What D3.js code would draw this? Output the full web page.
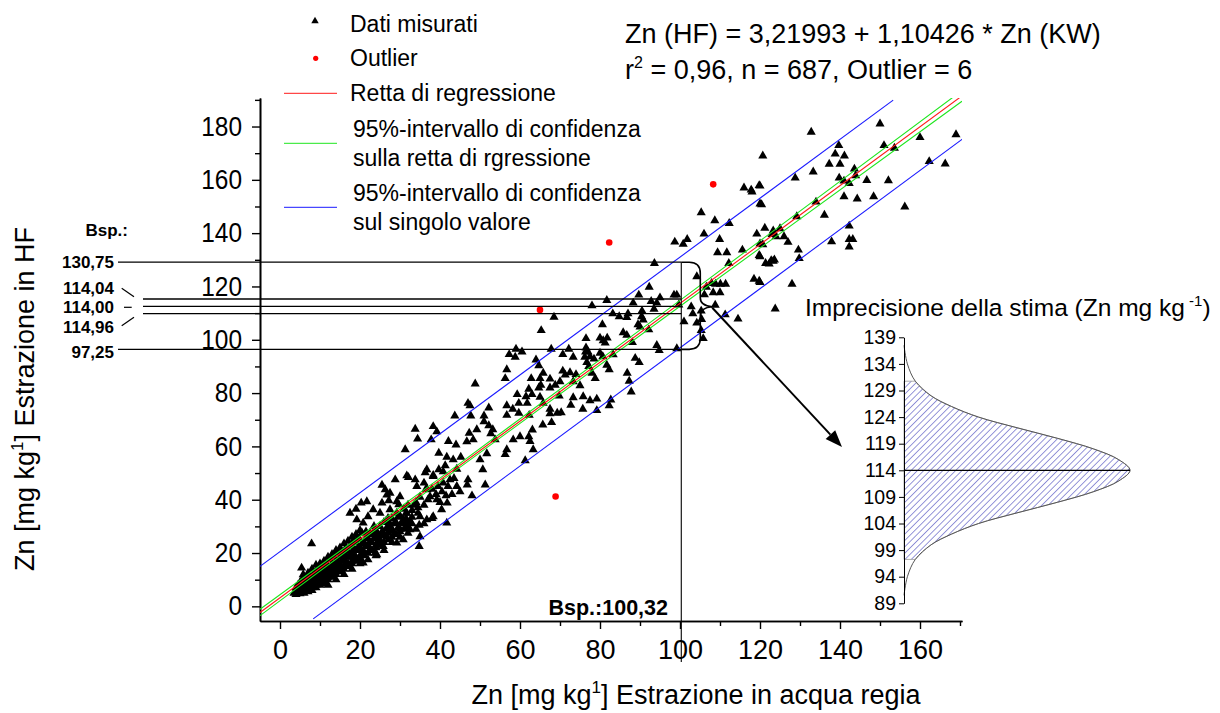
<!DOCTYPE html>
<html>
<head>
<meta charset="utf-8">
<script src="https://cdn.jsdelivr.net/npm/d3@7"></script>
<style>
  body { margin: 0; background: #fff; }
  text { font-family: Arial, "Liberation Sans", sans-serif; fill: #000; }
</style>
</head>
<body>
<div class="chart"></div>
<script>
// valori: [Zn KW, Zn HF]
const measured = [
  // parte alta (x > 115)
  [132.8,177.9],[150,181],[120.7,169],[139.7,172.9],[138.8,169.7],[141.1,169],[137.3,165.9],[140,165.9],
  [151,172.9],[153.6,171.9],[160,175.9],[169,177],[162.3,166.9],[166.3,166],[133.3,163],[128.8,160.7],
  [143.6,164.1],[143.9,161.6],[139.8,160.7],[141,159.6],[142.3,158.7],[146.7,159.8],[152.1,159.7],[141,153.7],
  [144.3,152.9],[148.4,153.7],[156.2,149.9],[134,151.7],[136.1,146.8],[129.2,146.2],[120,151],[120,157.7],
  [142.3,142.7],[137.9,136.8],[142.3,137.7],[143.2,137.7],[142.3,134.9],[121.2,141.9],[125,141.7],[123,139.5],
  [126,138.7],[127,136.6],[124,138.7],[120,136],[129.6,133.7],[129.8,130.5],[123.3,129.5],[122.3,128.5],
  [120,131.2],[128,120.9],[120,121.5],[123.8,111.6],
  // zona 80-120
  [116,157],[117.8,156.2],[119.8,157.9],[118,155.5],[120.4,150.7],[105.3,147.7],[108.7,144.7],[112.3,143.7],
  [106,139.7],[98.7,136.7],[101.8,137.7],[100.8,135.9],[109.9,137.7],[119.2,139.7],[123.3,140.9],[120.7,135.7],
  [115.6,133.7],[109.4,132.7],[111.7,132.7],[119.8,131.7],[122.8,129.7],[123.6,130],[121.4,128.7],[93.6,128.7],
  [104.2,123.7],[118.5,122.8],[119.8,122],[92.3,119.8],[108.9,120.9],[110.1,120.9],[111.4,120.9],[106.6,119.8],
  [106.1,116.9],[89.7,116.8],[95,115.8],[98.5,116.8],[99.2,116.8],[92.8,114.4],[94.2,113.8],[88.3,113.8],
  [81.7,114.8],[78,112.8],[99.7,113.1],[102.8,112.4],[108.8,113],[83.2,109.8],[84.8,108.7],[87,109.8],
  [86.7,108.4],[90.4,108.7],[90.8,107.5],[103.2,109.8],[105.3,110.8],[111.3,109.4],[114.5,107.8],[101,106.8],
  [104.2,106.3],[80.6,105.7],[89.5,105.7],[90,104.8],[92.2,103.8],[85.8,102.7],[86.7,101.7],[105.3,103.5],
  [80,100.7],[80.8,99.7],[81.8,100.7],[81.3,98.8],[76.5,97],[77,95.5],[94.2,97.9],[94.8,96],
  [99.2,96.7],[105.8,100.5],[83.3,94.4],[88.8,93.1],[77.5,93.7],[80,95],[112.2,128.7],[107.9,121.2],
  [108.3,117.7],[110,117.7],[105.4,107.7],[93.5,111.5],[90.5,110.8],
  // zona 45-90
  [68.5,108.5],[65.3,103.5],[76.5,100.5],[88.1,99],[59,96.5],[60.5,95.5],[57.3,94.5],[58.8,93.5],
  [67.8,96.5],[72.2,96.5],[70.7,94.5],[73.3,93.5],[76.4,95.5],[76.2,93.5],[78.5,92.8],[80.7,93.7],
  [81.7,90.5],[82.3,88.8],[64,92.5],[64.7,90.3],[65.8,87.5],[76.7,91.5],[77.2,90],[89.8,91.5],
  [56.7,88.8],[56.3,85.5],[70.7,88.3],[71.3,86.8],[72.5,87.7],[74,87],[78,87.5],[78.8,85.5],
  [62.8,85.5],[65.2,83],[65,85.5],[86.8,87.5],[87.3,84.5],[87.8,80.5],[48.8,83.5],[67.5,85.3],
  [68.8,83],[70,84.3],[73.3,84.3],[75,82.8],[62.2,81.5],[64.7,82],[67.5,82],[59.3,79.5],
  [61.5,78.7],[63,79.5],[65,78.5],[69.8,79],[73.3,78.3],[75.8,78.7],[79.2,77.8],[82.7,77.5],
  [82.3,75.3],[47,76.2],[47.5,75.3],[52.2,74.5],[56.7,75.3],[58.2,74],[59.7,76.2],[61.8,76.2],
  [65.8,76.2],[67.5,74],[69.3,72.5],[72.7,75.5],[75.7,74],[43.7,71.5],[47.7,71.5],[51,71.5],
  [56.7,71.7],[59.7,72.5],[62.3,71.7],[67.5,72.3],[70.3,72.7],[79.2,73.5],[77.5,77.2],[65.7,68.1],
  [67.9,69],[62.5,61.9],[51,69.3],
  // zona 20-65
  [33.8,66.5],[38.3,67.5],[39.2,65.5],[34.4,62.8],[37.8,62.5],[31.3,58.8],[42.1,61.9],[44,60.6],
  [47.3,65],[49.2,66.3],[46.7,61.8],[48.3,62.5],[52.2,67.8],[53.2,66.3],[52.7,64.8],[53.8,62.5],
  [39.7,57.5],[41.7,56],[43.3,55],[45.2,56],[41.3,52.8],[39.7,51.3],[44.2,51.5],[50,55],
  [50.7,51.3],[51.7,57.3],[36.7,51.3],[38.3,48.8],[36,46.3],[34.2,45],[36.8,43.8],[32.1,48.4],
  [28.8,47.5],[25.5,45.5],[40.8,46.3],[42.5,47.5],[44.2,45],[47,47.5],[46.8,45.6],[51.3,45.6],
  [48,41.5],[41.8,38.8],[39.2,40],[37.5,41.2],[27.5,42.5],[30,41.2],[27.2,39.7],[29.7,38.2],
  [25.5,38.8],[23.3,36.3],[25,35],[27.5,36.3],[22,33.7],[20.8,31.3],[20.3,38.8],[17.5,35],
  [31.7,35],[35,33.7],[36.7,32.5],[31.7,31.3],[34.8,30.5],[61.3,54.7],[63.3,58.8],[63.1,66.2],
  [62.2,63.7],[56.7,58.8],[56.3,57],[58.3,62.5],[60,63.7],[7.9,23.5],[19.2,32.5],[34.8,22.5],
  [35,26.2],[32.5,28.8],[20.8,20],[23.8,20],[25.8,22.5],[29.2,23.8],[30.8,25],[31.7,49],
  [33.8,47.5],[36.3,50.2],[38.3,49.2],[40.8,50.5],[5.4,14.4],[5.8,11.9],[19,36.5],[21.7,39.3],
  [26.7,41.8],[29.2,39.3],[26.3,43.8],[38.3,33.7],[40.4,36.3],[41.7,31.3],[30.8,32.5],[29.2,35],
  [27.5,30],[20.8,16.3],[18.8,17.5],[24.2,19.4],[26.7,26.2],[22.5,27.5],
  [38,44],[39.5,45],[40.5,43],[41.5,41.5],[39,42],[42,45],[43,42],[37,40],[40,39],[43.5,48],[45,43],
  // nuvola densa (x < 37)
  [3.5,5],[4,4.5],[4,6],[4.5,5.5],[5,4.8],[5,6.5],[5.5,5.5],[5.5,8],[6,6],[6,7.5],[6.5,6.5],[6.5,9],
  [4.5,8],[5.5,10],[7,6.5],[7,8],[7,10],[7.5,7.5],[7.5,9.5],[8,7],[8,8.5],[8,11],[8.5,9],[8.5,12.5],
  [9,8],[9,10],[9,13],[9.5,9],[9.5,11.5],[10,10],[10,12.5],[10,15],[10.5,11],[10.5,8.5],
  [11,10],[11,12],[11,14.5],[11.5,11],[11.5,16],[12,11],[12,13],[12,15],[12.5,12],[12.5,17.5],
  [13,12],[13,14],[13,16],[13.5,13],[13.5,18.5],[14,13],[14,15],[14,17],[14,20],[14.5,14],
  [15,14],[15,16],[15,18.5],[15,21],[15.5,17],[16,15],[16,17.5],[16,20],[16.5,16],[16.5,22],
  [17,16],[17,18.5],[17,21],[17.5,19.5],[18,17],[18,20],[18,23],[18.5,19],[18.5,25],[19,18.5],
  [19,21],[19,24],[19.5,22],[20,19],[20,22],[20,25],[20.5,23.5],[20.5,27.5],[21,20.5],[21,24],
  [21.5,22.5],[21.5,28],[22,23],[22,25.5],[22.5,21.5],[23,24],[23,27],[23.5,25.5],[23.5,30],
  [24,23],[24,26],[24,28.5],[24.5,27],[25,25],[25,30],[25.5,28],[26,27],[26,31.5],[26.5,29],
  [27,27.5],[27,33],[27.5,31],[28,29],[28,33],[28.5,27],[29,31.5],[29.5,33.5],[30,29],[30,34],
  [31,31],[31,36.5],[31.5,33],[32,38],[33,33.5],[33,36],[34,39],[34.5,35],[35,41],[36,38],[36.5,44],
  [6,11],[7,12.5],[8,14],[9,15.5],[10,16],[11,17],[12,18.5],[13,19.5],[14,21],[15,22],[16,23.5],
  [17,24.5],[18,26],[19,27],[20,28.5],[12,8],[14,10],[16,12],[18,14],[20,16],[22,17.5],[24,19],
  [26,21],[28,24],[30,26],[32,27.5],[34,29],[36,31],[38,33],
  [4,7],[5,9],[6,5],[7,5.5],[8,6],[9,7],[10,8],[11,9],[12,10],[13,11],[14,12],[15,13],[16,14],
  [17,15],[18,16],[19,17],[20,18],[21,19],[22,20],[23,21],[24,22],[25,23],[26,24],[27,25],[28,26],
  [29,27],[30,28],[31,29],[32,30],[33,31],[6.5,10.5],[7.5,11.5],[8.5,10.5],[9.5,13.5],[10.5,13.5],
  [11.5,13.5],[12.5,14.5],[13.5,15.5],[14.5,16.5],[15.5,19.5],[16.5,18.5],[17.5,22.5],[18.5,21.5],
  [19.5,25.5],[20.5,21],[21.5,25.5],[22.5,24],[23.5,28],[24.5,24.5],[25.5,26.5],[26.5,32],[27.5,28.5],
  [28.5,31],[29.5,29.5],[30.5,31.5],[31.5,35],[32.5,32],[33.5,38],[34.5,37]
]

const outliers = [[65.0,111.2],[82.3,136.5],[108.3,158.3],[68.9,41.2]]

// linee (estremi)
const regressionLine = [[-5,-2.3],[170.5,191.5]]
const confUpper = [[-5,-1.1],[40,48.1],[100,114.8],[170.5,193.5]]
const confLower = [[-5,-3.5],[40,46.7],[100,112.6],[170.5,189.5]]
const predUpper = [[-5,15.0],[153.3,189.9]]
const predLower = [[8.3,-4.7],[170.8,175.5]]

// tacche
const xMajor = [0,20,40,60,80,100,120,140,160]
const xMinor = [10,30,50,70,90,110,130,150,170]
const yMajor = [0,20,40,60,80,100,120,140,160,180]
const yMinor = [10,30,50,70,90,110,130,150,170,190]
const insetTicks = [89,94,99,104,109,114,119,124,129,134,139]

// esempio (Bsp.)
const exampleKW = 100.32
const bspLines = [129.1,115.3,112.5,109.8,96.4]
const bspLabels = ['130,75','114,04','114,00','114,96','97,25']

// curva di imprecisione: [Zn, densita relativa]
const insetCurve = [[137.5,0],[134,0.015],[130.75,0.05],[128,0.12],[126,0.21],[124,0.33],[122,0.5],
  [120,0.68],[118,0.84],[116,0.95],[114,1],[112,0.95],[110,0.84],[108,0.68],[106,0.5],[104,0.33],
  [102,0.21],[100,0.12],[97.25,0.05],[94,0.015],[90.5,0]]
const insetMean = 114
const insetBand = [97.25,130.75]

function drawChart() {
  const svgWidth = 1220
  const svgHeight = 713
  const svg = d3.select('.chart')
    .append('svg')
    .attr('width', svgWidth)
    .attr('height', svgHeight)

  const defs = svg.append('defs')
  defs.append('clipPath').attr('id', 'plotClip')
    .append('rect').attr('x', 260).attr('y', 98).attr('width', 702).attr('height', 523)
  const hatch = defs.append('pattern')
    .attr('id', 'hatch')
    .attr('patternUnits', 'userSpaceOnUse')
    .attr('width', 4.5).attr('height', 4.5)
    .attr('patternTransform', 'rotate(45)')
  hatch.append('rect').attr('width', 4.5).attr('height', 4.5).attr('fill', '#fff')
  hatch.append('line').attr('x1', 0).attr('y1', 0).attr('x2', 0).attr('y2', 4.5)
    .attr('stroke', '#5050c0').attr('stroke-width', 1.2)

  // scale
  const x = d3.scaleLinear().domain([-5, 170.5]).range([260, 962])
  const y = d3.scaleLinear().domain([-5.5, 190.7]).range([621, 98])

  // assi
  const xAxis = svg.append('g').attr('transform', 'translate(0,621)')
    .call(d3.axisBottom(x).tickValues(xMajor).tickSize(8).tickSizeOuter(0).tickPadding(11))
  xAxis.append('g').call(d3.axisBottom(x).tickValues(xMinor).tickSize(5).tickSizeOuter(0).tickFormat(''))
  const yAxis = svg.append('g').attr('transform', 'translate(260,0)')
    .call(d3.axisLeft(y).tickValues(yMajor).tickSize(8).tickSizeOuter(0).tickPadding(10))
  yAxis.append('g').call(d3.axisLeft(y).tickValues(yMinor).tickSize(5).tickSizeOuter(0).tickFormat(''))
  svg.selectAll('.domain').attr('stroke', '#000').attr('stroke-width', 1.6)
  svg.selectAll('.tick line').attr('stroke', '#000').attr('stroke-width', 1.4)
  xAxis.selectAll('text').style('font-size', '27px').style('font-family', 'Arial')
  yAxis.selectAll('text').style('font-size', '27px').style('font-family', 'Arial')
    .attr('textLength', d => String(d).length * 13.6).attr('lengthAdjust', 'spacingAndGlyphs')

  // titoli assi
  const yTitle = svg.append('text')
    .attr('transform', 'translate(34,399) rotate(-90)')
    .attr('text-anchor', 'middle')
    .style('font-size', '27px')
  yTitle.append('tspan').text('Zn [mg kg')
  yTitle.append('tspan').attr('dy', -11).style('font-size', '17px').text('1')
  yTitle.append('tspan').attr('dy', 11).text('] Estrazione in HF')

  const xTitle = svg.append('text')
    .attr('x', 696).attr('y', 704)
    .attr('text-anchor', 'middle')
    .style('font-size', '27px')
  xTitle.append('tspan').text('Zn [mg kg')
  xTitle.append('tspan').attr('dy', -11).style('font-size', '17px').text('1')
  xTitle.append('tspan').attr('dy', 11).text('] Estrazione in acqua regia')

  // punti misurati
  svg.append('g')
    .selectAll('path')
    .data(measured)
    .enter()
    .append('path')
    .attr('d', d3.symbol(d3.symbolTriangle, 36))
    .attr('transform', d => `translate(${x(d[0])},${y(d[1])})`)
    .attr('fill', '#000')

  // outlier
  svg.append('g')
    .selectAll('circle')
    .data(outliers)
    .enter()
    .append('circle')
    .attr('cx', d => x(d[0]))
    .attr('cy', d => y(d[1]))
    .attr('r', 3.3)
    .attr('fill', '#ff0000')

  // rette
  const line = d3.line().x(d => x(d[0])).y(d => y(d[1]))
  const lines = svg.append('g').attr('clip-path', 'url(#plotClip)')
  const series = [
    [predUpper, '#1a1aff'], [predLower, '#1a1aff'],
    [confUpper, '#1ee61e'], [confLower, '#1ee61e'],
    [regressionLine, '#ff1a1a']
  ]
  series.forEach(s => {
    lines.append('path').attr('d', line(s[0]))
      .attr('fill', 'none').attr('stroke', s[1]).attr('stroke-width', 1.1)
  })

  // esempio: linee orizzontali e verticale
  const ann = svg.append('g').attr('stroke', '#000').attr('fill', 'none')
  bspLines.forEach((v, i) => {
    const x0 = (i === 0 || i === 4) ? 118 : 143
    ann.append('line').attr('x1', x0).attr('x2', x(exampleKW))
      .attr('y1', y(v)).attr('y2', y(v)).attr('stroke-width', 1.3)
  })
  ann.append('line').attr('x1', x(exampleKW)).attr('x2', x(exampleKW))
    .attr('y1', y(bspLines[0])).attr('y2', 662).attr('stroke-width', 1.1)
  // trattini verso le etichette centrali
  ann.append('line').attr('x1', 121.7).attr('y1', 288.3).attr('x2', 134).attr('y2', 296.7).attr('stroke-width', 1.2)
  ann.append('line').attr('x1', 124).attr('y1', 307.3).attr('x2', 131.7).attr('y2', 307.3).attr('stroke-width', 1.2)
  ann.append('line').attr('x1', 121.7).attr('y1', 325.7).attr('x2', 134).attr('y2', 317.3).attr('stroke-width', 1.2)

  // parentesi graffa
  const bx = x(exampleKW), top = y(bspLines[0]), bot = y(bspLines[4])
  const mid = (top + bot) / 2 + 1
  ann.append('path')
    .attr('d', `M${bx},${top} H${bx + 8} Q${bx + 19},${top} ${bx + 19},${top + 11} V${mid - 9}
      Q${bx + 19},${mid - 1} ${bx + 31},${mid} Q${bx + 19},${mid + 1} ${bx + 19},${mid + 9}
      V${bot - 11} Q${bx + 19},${bot} ${bx + 8},${bot} H${bx}`)
    .attr('stroke-width', 1.6)

  // freccia verso il riquadro
  const ax0 = bx + 31, ay0 = mid + 1, ax1 = 842, ay1 = 447
  const ang = Math.atan2(ay1 - ay0, ax1 - ax0)
  const hl = 17, hw = 6.5
  const bxh = ax1 - hl * Math.cos(ang), byh = ay1 - hl * Math.sin(ang)
  ann.append('line').attr('x1', ax0).attr('y1', ay0).attr('x2', bxh).attr('y2', byh).attr('stroke-width', 2)
  svg.append('path')
    .attr('d', `M${ax1},${ay1} L${bxh + hw * Math.sin(ang)},${byh - hw * Math.cos(ang)} L${bxh - hw * Math.sin(ang)},${byh + hw * Math.cos(ang)} Z`)
    .attr('fill', '#000')

  // etichette Bsp.
  svg.append('text').attr('x', 128).attr('y', 236).attr('text-anchor', 'end')
    .style('font-size', '17px').style('font-weight', 'bold').text('Bsp.:')
  const labelY = [268, 294, 313.3, 333, 358]
  svg.append('g').selectAll('text').data(bspLabels).enter().append('text')
    .attr('x', 114).attr('y', (d, i) => labelY[i]).attr('text-anchor', 'end')
    .style('font-size', '17px').style('font-weight', 'bold').text(d => d)
  svg.append('text').attr('x', 668).attr('y', 615).attr('text-anchor', 'end')
    .style('font-size', '21.5px').style('font-weight', 'bold').text('Bsp.:' + String(exampleKW).replace('.', ','))

  // legenda
  const lg = svg.append('g')
  lg.append('path').attr('d', d3.symbol(d3.symbolTriangle, 24)).attr('transform', 'translate(315,21)')
  lg.append('circle').attr('cx', 315.7).attr('cy', 58.3).attr('r', 2.6).attr('fill', '#ff0000')
  lg.append('line').attr('x1', 284).attr('x2', 337).attr('y1', 93.3).attr('y2', 93.3).attr('stroke', '#ff1a1a')
  lg.append('line').attr('x1', 284).attr('x2', 337).attr('y1', 143.3).attr('y2', 143.3).attr('stroke', '#1ee61e')
  lg.append('line').attr('x1', 284).attr('x2', 337).attr('y1', 207.3).attr('y2', 207.3).attr('stroke', '#1a1aff')
  const legendText = [
    ['Dati misurati', 350, 31.7], ['Outlier', 350, 66], ['Retta di regressione', 350, 101],
    ['95%-intervallo di confidenza', 353, 136.7], ['sulla retta di rgressione', 353, 166],
    ['95%-intervallo di confidenza', 353, 200.7], ['sul singolo valore', 353, 230]
  ]
  lg.selectAll('text').data(legendText).enter().append('text')
    .attr('x', d => d[1]).attr('y', d => d[2]).style('font-size', '23px').text(d => d[0])

  // equazione
  svg.append('text').attr('x', 625).attr('y', 43).style('font-size', '27px')
    .text('Zn (HF) = 3,21993 + 1,10426 * Zn (KW)')
  const r2 = svg.append('text').attr('x', 625).attr('y', 79).style('font-size', '27px')
  r2.append('tspan').text('r')
  r2.append('tspan').attr('dy', -11).style('font-size', '16px').text('2')
  r2.append('tspan').attr('dy', 11).text(' = 0,96, n = 687, Outlier = 6')

  // riquadro imprecisione
  const yi = d3.scaleLinear().domain([89, 139]).range([603.3, 337.3])
  const xi = d3.scaleLinear().domain([0, 1]).range([904, 1130])

  const bandPts = insetCurve.filter(d => d[0] >= insetBand[0] && d[0] <= insetBand[1])
  const area = d3.area().curve(d3.curveCatmullRom)
    .y(d => yi(d[0])).x0(xi(0)).x1(d => xi(d[1]))
  svg.append('path').attr('d', area(bandPts))
    .attr('fill', 'url(#hatch)').attr('stroke', '#999').attr('stroke-width', 0.8)

  const curve = d3.line().curve(d3.curveCatmullRom)
    .x(d => xi(d[1])).y(d => yi(d[0]))
  svg.append('path').attr('d', curve(insetCurve))
    .attr('fill', 'none').attr('stroke', '#555').attr('stroke-width', 1)

  svg.append('line').attr('x1', xi(0)).attr('x2', xi(1))
    .attr('y1', yi(insetMean)).attr('y2', yi(insetMean))
    .attr('stroke', '#000').attr('stroke-width', 1.2)

  const inAxis = svg.append('g').attr('transform', `translate(${xi(0)},0)`)
    .call(d3.axisLeft(yi).tickValues(insetTicks).tickSize(5).tickSizeOuter(0).tickPadding(3))
  inAxis.select('.domain').attr('stroke', '#000').attr('stroke-width', 1)
  inAxis.selectAll('.tick line').attr('stroke', '#000').attr('stroke-width', 1)
  inAxis.selectAll('text').style('font-size', '19.5px').style('font-family', 'Arial')

  const it = svg.append('text').attr('x', 805).attr('y', 316).style('font-size', '24.5px')
  it.append('tspan').text('Imprecisione della stima (Zn mg kg')
  it.append('tspan').attr('dy', -10).style('font-size', '15px').text(' -1')
  it.append('tspan').attr('dy', 10).text(')')
}

drawChart()
</script>
</body>
</html>
